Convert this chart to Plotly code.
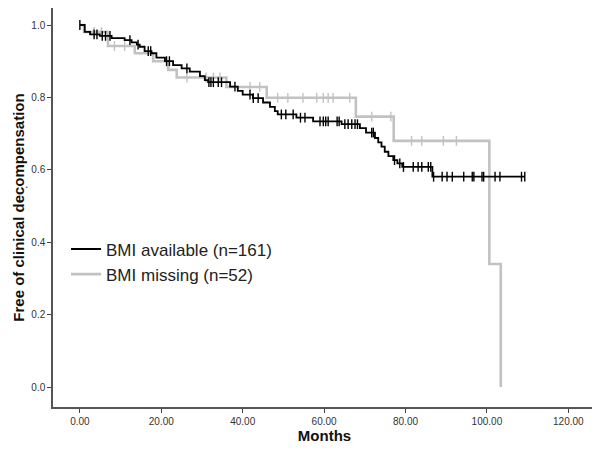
import numpy as np
import plotly.graph_objects as go

# ---- Data ----
avail_times = [0, 1.2, 2.5, 4.9, 7.8, 11.0, 12.7, 14.0, 14.7, 15.9, 17.6, 18.8, 20.9, 22.9,
               25.0, 27.0, 29.5, 30.7, 31.5, 36.9, 38.8, 40.0, 42.5, 45.0, 46.7, 47.9, 48.6,
               53.2, 57.3, 64.3, 68.8, 70.3, 72.5, 73.3, 74.1, 74.9, 75.8, 77.0, 78.0, 79.2, 86.6]
avail_surv = [1.0, 0.981, 0.974, 0.970, 0.964, 0.958, 0.952, 0.946, 0.940, 0.928, 0.922, 0.910,
              0.900, 0.889, 0.880, 0.871, 0.859, 0.848, 0.842, 0.830, 0.818, 0.808, 0.798, 0.786,
              0.774, 0.762, 0.753, 0.744, 0.734, 0.726, 0.715, 0.703, 0.688, 0.676, 0.664, 0.650,
              0.638, 0.627, 0.618, 0.608, 0.581]
avail_end = 109.3
avail_censored = [0, 3.5, 4.2, 5.5, 6.3, 7.4, 12.3, 14.3, 16.8, 17.4, 21.3, 22.0, 26.3, 31.7,
                  32.2, 32.8, 34.0, 34.8, 38.1, 41.8, 42.6, 43.8, 49.5, 50.6, 52.4, 54.2, 55.3,
                  59.0, 59.8, 60.4, 61.0, 63.2, 63.7, 65.1, 65.9, 66.8, 67.6, 68.2, 71.7, 72.1,
                  77.3, 78.6, 79.5, 81.9, 83.1, 84.0, 85.6, 86.2, 86.9, 89.0, 90.2, 91.5, 94.3,
                  96.4, 96.8, 98.8, 99.2, 102.0, 103.2, 108.5, 109.3]

miss_times = [0, 1.0, 6.9, 13.5, 18.0, 21.7, 23.8, 36.0, 45.9, 67.8, 77.1, 100.6, 103.4]
miss_surv = [1.0, 0.981, 0.942, 0.922, 0.900, 0.876, 0.855, 0.829, 0.799, 0.747, 0.680, 0.340, 0.0]
miss_end = 103.4
miss_censored = [3.5, 5.3, 8.5, 11.0, 26.3, 31.0, 32.8, 34.4, 41.8, 44.2, 48.6, 51.1, 54.8,
                 58.2, 59.8, 61.0, 62.2, 66.3, 71.7, 76.4, 81.5, 84.0, 89.3, 92.5]

x_ticks = [0, 20, 40, 60, 80, 100, 120]
y_ticks = [0.0, 0.2, 0.4, 0.6, 0.8, 1.0]

labels = ["BMI available (n=161)", "BMI missing (n=52)"]
colors = ["#000000", "#c2c2c2"]
widths = [1.8, 2.6]


def step_value(times, surv, t):
    idx = np.searchsorted(np.array(times), t, side="right") - 1
    return surv[max(idx, 0)]


fig = go.Figure()
groups = [(avail_times, avail_surv, avail_end, avail_censored),
          (miss_times, miss_surv, miss_end, miss_censored)]
# draw grey group first so the black curve lies on top
for i in [1, 0]:
    tt, ss, end, cens = groups[i]
    xs = list(tt) + [end]
    ys = list(ss) + [ss[-1]]
    cy = [step_value(tt, ss, c) for c in cens]
    fig.add_trace(go.Scatter(x=cens, y=cy, mode="markers",
                             marker=dict(symbol="line-ns-open", size=7, color=colors[i],
                                         line=dict(color=colors[i], width=1.4)),
                             showlegend=False, hoverinfo="skip"))
    fig.add_trace(go.Scatter(x=xs, y=ys, mode="lines",
                             line=dict(shape="hv", color=colors[i], width=widths[i]),
                             name=labels[i], showlegend=True, legendrank=i + 1))

fig.update_layout(
    width=592, height=444,
    margin=dict(l=45, r=4, t=0, b=45),
    paper_bgcolor="white", plot_bgcolor="white",
    font=dict(family="Liberation Sans, Arial, sans-serif", color="#333333"),
    showlegend=True,
    legend=dict(x=0.024, y=0.44, xanchor="left", yanchor="top",
                font=dict(size=17, color="#222222"), bgcolor="rgba(0,0,0,0)",
                tracegroupgap=0, itemwidth=30, traceorder="normal"),
)
fig.update_xaxes(range=[-6.6, 126.8], tickvals=x_ticks, tickformat=".2f", automargin=False,
                 showgrid=False, zeroline=False, showline=True, linecolor="#555555", linewidth=1.5,
                 mirror=True, ticks="outside", ticklen=4, tickcolor="#444444",
                 tickfont=dict(size=10, color="#333333"),
                 title=dict(text="<b>Months</b>", font=dict(size=15, color="#111111"), standoff=5))
fig.update_yaxes(range=[-0.055, 1.047], tickvals=y_ticks, tickformat=".1f", automargin=False,
                 showgrid=False, zeroline=False, showline=True, linecolor="#555555", linewidth=1.5,
                 mirror=True, ticks="outside", ticklen=4, tickcolor="#444444",
                 tickfont=dict(size=10, color="#333333"),
                 title=dict(text="<b>Free of clinical decompensation</b>", font=dict(size=15, color="#111111"),
                            standoff=3))
fig.add_annotation(x=-0.055, y=0.56, xref="paper", yref="paper", text=".", showarrow=False,
                   font=dict(size=12, color="#333333"))

fig.write_html("out.html")
